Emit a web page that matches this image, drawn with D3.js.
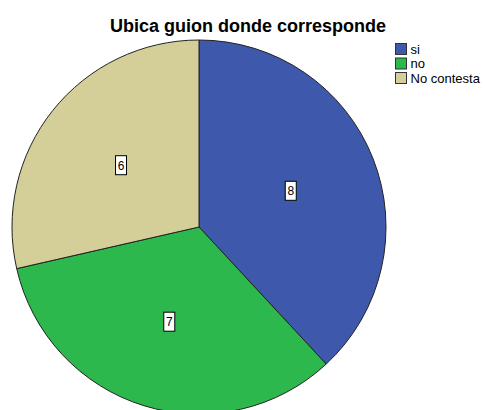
<!DOCTYPE html>
<html>
<head>
<meta charset="utf-8">
<script src="https://cdn.jsdelivr.net/npm/d3@7"></script>
<style>
  body { margin: 0; background: #fff; }
  text { font-family: "Liberation Sans", Arial, sans-serif; }
</style>
</head>
<body>
<div id="chart"></div>
<script>
var categories = ["si", "no", "No contesta"];
var counts = [8, 7, 6];
var colors = ["#3E58AC", "#2DB84D", "#D4CE98"];
var title = "Ubica guion donde corresponde";

var width = 485, height = 410;
var cx = 199, cy = 227, radius = 187;

var svg = d3.select("#chart").append("svg")
  .attr("width", width)
  .attr("height", height);

svg.append("text")
  .attr("x", 248)
  .attr("y", 32)
  .attr("text-anchor", "middle")
  .attr("font-size", "18px")
  .attr("font-weight", "bold")
  .attr("fill", "#000")
  .text(title);

var data = categories.map(function (c, i) { return { cat: c, value: counts[i], color: colors[i] }; });

var pie = d3.pie().sort(null).value(function (d) { return d.value; });
var arc = d3.arc().innerRadius(0).outerRadius(radius);
var labelArc = d3.arc().innerRadius(radius * 0.53).outerRadius(radius * 0.53);

var g = svg.append("g").attr("transform", "translate(" + cx + "," + cy + ")");

var arcs = pie(data);

g.selectAll("path").data(arcs).enter()
  .append("path")
  .attr("d", arc)
  .attr("fill", function (d) { return d.data.color; })
  .attr("stroke", "#222")
  .attr("stroke-width", 1);

// value labels in little white boxes
var lab = g.selectAll(".lab").data(arcs).enter()
  .append("g").attr("class", "lab")
  .attr("transform", function (d) {
    var c = labelArc.centroid(d);
    return "translate(" + c[0] + "," + c[1] + ")";
  });
lab.append("rect")
  .attr("x", -6).attr("y", -9.5)
  .attr("width", 11).attr("height", 19)
  .attr("fill", "#fff")
  .attr("stroke", "#000")
  .attr("stroke-width", 1);
lab.append("text")
  .attr("x", -0.5).attr("y", 4.5)
  .attr("text-anchor", "middle")
  .attr("font-size", "12px")
  .attr("fill", "#000")
  .text(function (d) { return d.data.value; });

// legend
var legend = svg.append("g").attr("transform", "translate(395.5,43.5)");
var item = legend.selectAll("g").data(data).enter()
  .append("g")
  .attr("transform", function (d, i) { return "translate(0," + (i * 14.5) + ")"; });
item.append("rect")
  .attr("width", 11).attr("height", 11)
  .attr("fill", function (d) { return d.color; })
  .attr("stroke", "#333")
  .attr("stroke-width", 1);
item.append("text")
  .attr("x", 15).attr("y", 10)
  .attr("font-size", "13px")
  .attr("fill", "#000")
  .text(function (d) { return d.cat; });
</script>
</body>
</html>
